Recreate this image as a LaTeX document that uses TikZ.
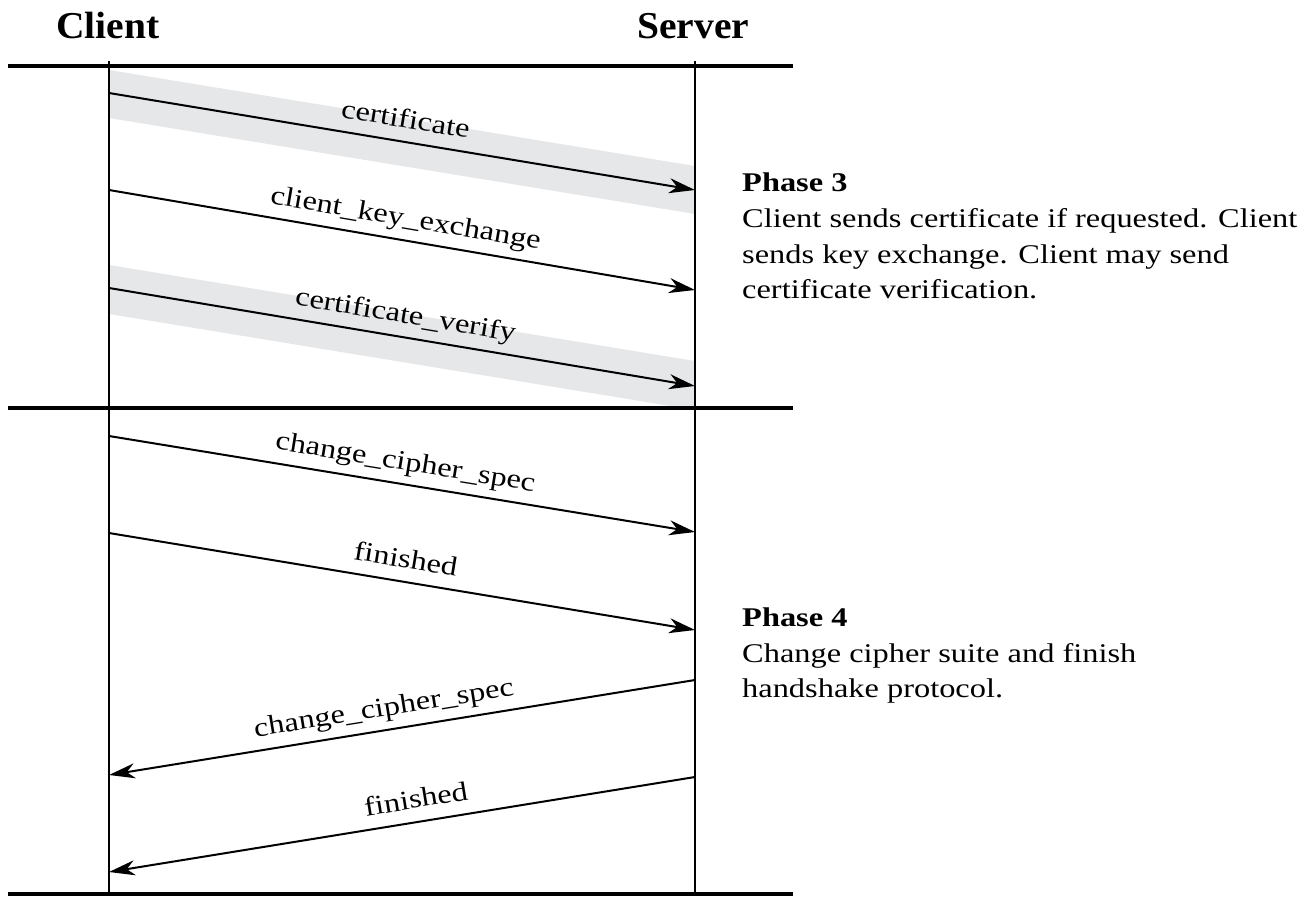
\documentclass[tikz,border=0pt]{standalone}
\usepackage{fontspec}
\setmainfont{Liberation Serif}
\newfontfamily\bodyfont[FakeStretch=1.2]{Liberation Serif}
\newfontfamily\headfont[FakeStretch=1.04]{Liberation Serif}
\usetikzlibrary{arrows.meta}
\definecolor{bandgray}{HTML}{E6E7E8}
\tikzset{
  rule/.style={line width=3.5pt},
  life/.style={line width=1.7pt},
  msg/.style={line width=2pt,-{Stealth[length=26pt,width=15pt,inset=8pt]}},
  lbl/.style={sloped,above,inner xsep=0pt,inner ysep=13pt,text depth=0pt,font=\bodyfont\fontsize{27}{32}\selectfont},
  head/.style={anchor=base west,inner sep=0pt,font=\headfont\fontsize{38}{44}\selectfont\bfseries},
  note/.style={anchor=base west,inner sep=0pt,font=\bodyfont\fontsize{27}{32}\selectfont},
  notehead/.style={note,font=\bodyfont\fontsize{27}{32}\selectfont\bfseries},
}
\begin{document}
\begin{tikzpicture}[x=1pt,y=-1pt]
\useasboundingbox (0,0) rectangle (1305,896);
% gray bands
\fill[bandgray] (109,70) -- (695,166) -- (695,214) -- (109,118) -- cycle;
\fill[bandgray] (109,265) -- (695,361) -- (695,410) -- (109,314) -- cycle;
% headers
\node[head] (client) at (56,39) {Client};
\node[head] (server) at (637,39) {Server};
% rules
\coordinate (r1a) at (8,66);   \coordinate (r1b) at (793,66);
\coordinate (r2a) at (8,408);  \coordinate (r2b) at (793,408);
\coordinate (r3a) at (8,894);  \coordinate (r3b) at (793,894);
\draw[rule] (r1a) -- (r1b);
\draw[rule] (r2a) -- (r2b);
\draw[rule] (r3a) -- (r3b);
% lifelines
\coordinate (ct) at (109,61); \coordinate (cb) at (109,896);
\coordinate (st) at (695,61); \coordinate (sb) at (695,896);
\draw[life] (ct) -- (cb);
\draw[life] (st) -- (sb);
% message endpoints
\coordinate (c1) at (109,93);  \coordinate (s1) at (695,190);
\coordinate (c2) at (109,190); \coordinate (s2) at (695,290);
\coordinate (c3) at (109,288); \coordinate (s3) at (695,386);
\coordinate (c4) at (109,436); \coordinate (s4) at (695,532);
\coordinate (c5) at (109,533); \coordinate (s5) at (695,630);
\coordinate (s6) at (695,680); \coordinate (c6) at (109,775);
\coordinate (s7) at (695,777); \coordinate (c7) at (109,872);
\draw[msg] (c1) -- node[lbl] (m1) {certificate} (s1);
\draw[msg] (c2) -- node[lbl] (m2) {client\_key\_exchange} (s2);
\draw[msg] (c3) -- node[lbl] (m3) {certificate\_verify} (s3);
\draw[msg] (c4) -- node[lbl] (m4) {change\_cipher\_spec} (s4);
\draw[msg] (c5) -- node[lbl] (m5) {finished} (s5);
\draw[msg] (s6) -- node[lbl,pos=0.525] (m6) {change\_cipher\_spec} (c6);
\draw[msg] (s7) -- node[lbl,pos=0.47] (m7) {finished} (c7);
% notes
\node[notehead] (p3) at (742,192) {Phase 3};
\node[note] (p3a) at (742,227) {Client sends certificate if requested. Client};
\node[note] (p3b) at (742,263) {sends key exchange. Client may send};
\node[note] (p3c) at (742,298) {certificate verification.};
\node[notehead] (p4) at (742,626) {Phase 4};
\node[note] (p4a) at (742,662) {Change cipher suite and finish};
\node[note] (p4b) at (742,697) {handshake protocol.};
\end{tikzpicture}
\end{document}
